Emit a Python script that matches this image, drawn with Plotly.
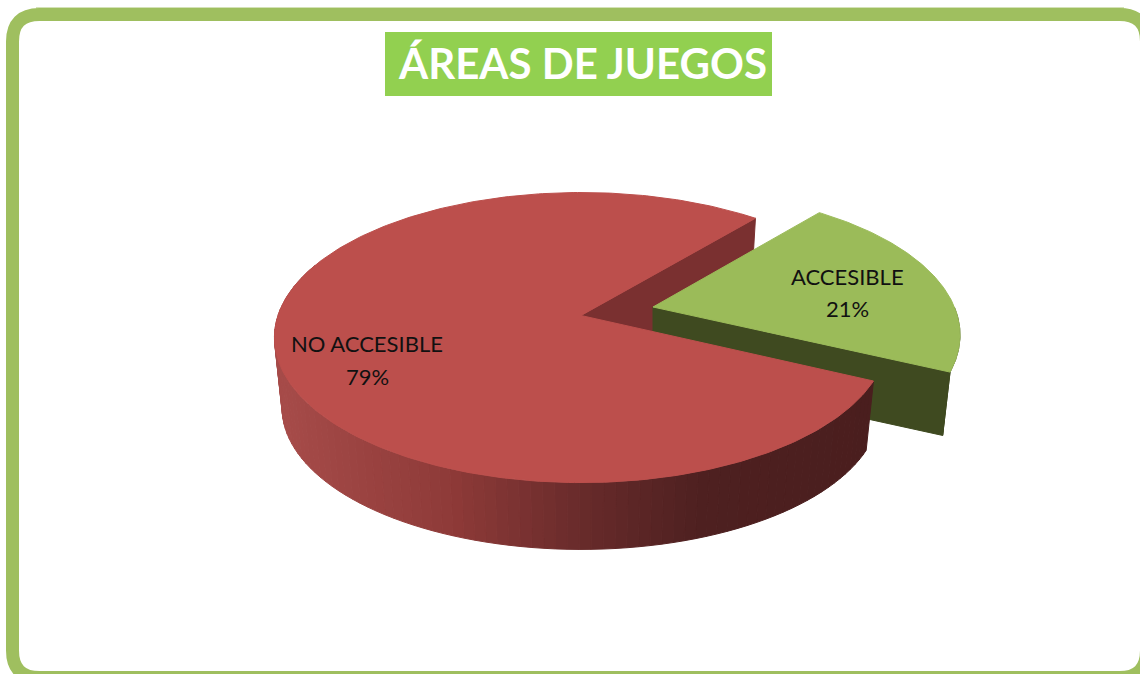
import math
import plotly.graph_objects as go

# ---- data ----
title_text = "ÁREAS DE JUEGOS"
categories = ["ACCESIBLE", "NO ACCESIBLE"]
values = [21, 79]

# ---- pie geometry / style ----
START_DEG = 40.0
GREEN_SHIFT_DEG = -0.5
APEX = (581.0, 315.5)
EXPLODE = (72.0, -8.5)
A, B, K = 303.0, 141.7, 0.152
DEPTH_RED, DEPTH_GREEN, BOTTOM_SCALE = 71.0, 65.0, 0.975
GREEN_R0, GREEN_R1 = 0.96, 1.012
C_RED_TOP, C_RED_WALL = "#BC4F4C", "#7A3030"
C_GRN_TOP, C_GRN_WALL = "#9BBB59", "#3F4A20"
FRAME = "#9FBF5F"
RED_RAMP = [(280, (0xA6, 0x4B, 0x49)), (450, (0x8E, 0x3A, 0x38)), (590, (0x66, 0x2A, 0x2A)),
            (700, (0x4E, 0x20, 0x20)), (880, (0x4A, 0x1E, 0x1E))]


def project(theta_deg, apex, radius=1.0, depth=None):
    t = math.radians(theta_deg)
    u, v = radius * math.sin(t), radius * math.cos(t)
    w = 1 + K * v
    x, y = A * u / w, -B * v / w
    if depth is not None:
        return apex[0] + x * BOTTOM_SCALE, apex[1] + y * BOTTOM_SCALE + depth
    return apex[0] + x, apex[1] + y


def arc(a0, a1, apex, depth=None, n=120, radius=lambda a: 1.0):
    out = []
    for i in range(n + 1):
        a = a0 + (a1 - a0) * i / n
        out.append(project(a, apex, radius(a), depth))
    return out


def ramp(x):
    if x <= RED_RAMP[0][0]:
        c = RED_RAMP[0][1]
    elif x >= RED_RAMP[-1][0]:
        c = RED_RAMP[-1][1]
    else:
        for (x0, c0), (x1, c1) in zip(RED_RAMP, RED_RAMP[1:]):
            if x0 <= x <= x1:
                f = (x - x0) / (x1 - x0)
                c = tuple(c0[i] + (c1[i] - c0[i]) * f for i in range(3))
                break
    return "rgb(%d,%d,%d)" % tuple(round(p) for p in c)


fig = go.Figure()


def poly(pts, color, name):
    xs = [p[0] for p in pts] + [pts[0][0]]
    ys = [p[1] for p in pts] + [pts[0][1]]
    fig.add_trace(go.Scatter(x=xs, y=ys, mode="lines", fill="toself", fillcolor=color,
                             line=dict(color=color, width=1), name=name,
                             hoverinfo="skip", showlegend=False))


total = sum(values)
sweep_a = values[0] / total * 360
a_start, a_end = START_DEG + GREEN_SHIFT_DEG, START_DEG + GREEN_SHIFT_DEG + sweep_a
r_start, r_end = START_DEG + sweep_a, START_DEG + 360
apex_g = (APEX[0] + EXPLODE[0], APEX[1] + EXPLODE[1])


def green_radius(a):
    return GREEN_R0 + (GREEN_R1 - GREEN_R0) * (a - a_start) / (a_end - a_start)


# red pie: the cut wall that faces the viewer
p0, p1 = project(r_end, APEX), project(r_end, APEX, depth=DEPTH_RED)
poly([APEX, p0, p1, (APEX[0], APEX[1] + DEPTH_RED)], C_RED_WALL, categories[1] + " wall")

# green slice: walls then top
g1 = project(a_end, apex_g, GREEN_R1)
g2 = project(a_end, apex_g, GREEN_R1, depth=DEPTH_GREEN)
poly([apex_g, g1, g2, (apex_g[0], apex_g[1] + DEPTH_GREEN)], C_GRN_WALL, categories[0] + " wall")
poly(arc(90, a_end, apex_g, radius=green_radius) + [g2], C_GRN_WALL, categories[0] + " rim")
poly([apex_g] + arc(a_start, a_end, apex_g, radius=green_radius), C_GRN_TOP, categories[0])

# red pie: shaded outer wall, sliced into strips
N = 90
stop = 292.0
for i in range(N):
    a0 = r_start + (stop - r_start) * i / N
    a1 = r_start + (stop - r_start) * (i + 1) / N
    top = arc(a0, a1, APEX, n=3)
    bot = arc(a1, a0, APEX, depth=DEPTH_RED, n=3)
    poly(top + bot, ramp(project((a0 + a1) / 2, APEX)[0]), categories[1] + " side")

# red pie: top
poly([APEX] + arc(r_start, r_end, APEX, n=300), C_RED_TOP, categories[1])

label_font = dict(family="Lato, Carlito, sans-serif", size=22, color="#111111")
label_pos = [(847, 276, 308), (367, 343, 376)]
annotations = []
for cat, val, (lx, ly0, ly1) in zip(categories, values, label_pos):
    annotations.append(dict(x=lx, y=ly0, text=cat, showarrow=False, font=label_font,
                            xref="x", yref="y", xanchor="center", yanchor="middle"))
    annotations.append(dict(x=lx, y=ly1, text=f"{val}%", showarrow=False, font=label_font,
                            xref="x", yref="y", xanchor="center", yanchor="middle"))

# rounded frame, partly cut by the picture edge
L, T, R_, Bt, r = 12.5, 14.5, 1146.5, 677.5, 27
frame_path = (f"M {L+r},{T} L {R_-r},{T} Q {R_},{T} {R_},{T+r} L {R_},{Bt-r} "
              f"Q {R_},{Bt} {R_-r},{Bt} L {L+r},{Bt} Q {L},{Bt} {L},{Bt-r} "
              f"L {L},{T+r} Q {L},{T} {L+r},{T} Z")

fig.update_layout(
    width=1140, height=674, margin=dict(l=0, r=0, t=0, b=0),
    paper_bgcolor="white", plot_bgcolor="white", showlegend=False,
    xaxis=dict(range=[0, 1140], visible=False, fixedrange=True),
    yaxis=dict(range=[674, 0], visible=False, fixedrange=True),
    title=dict(text=f"<b>{title_text}</b>", x=583 / 1140, y=1 - 64 / 674,
               xanchor="center", yanchor="middle",
               font=dict(family="Lato, Carlito, sans-serif", size=42, color="white")),
    shapes=[
        dict(type="line", x0=36, x1=1124, y0=8, y1=8, xref="x", yref="y", layer="below",
             line=dict(color="#C6D89F", width=1.5)),
        dict(type="path", path=frame_path, xref="x", yref="y", layer="below",
             line=dict(color=FRAME, width=13), fillcolor="rgba(0,0,0,0)"),
        dict(type="rect", x0=385, x1=772, y0=32, y1=96, xref="x", yref="y", layer="below",
             fillcolor="#92D050", line=dict(width=0)),
    ],
    annotations=annotations,
)

fig.write_html("out.html", config={"displayModeBar": False},
               post_script="document.body.style.margin='0';document.documentElement.style.overflow='hidden';")
